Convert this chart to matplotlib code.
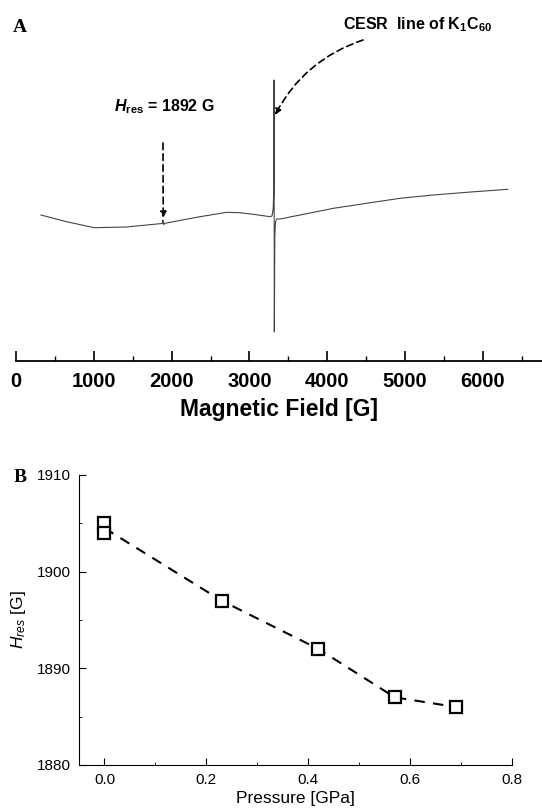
import numpy as np
import matplotlib.pyplot as plt
from matplotlib.ticker import MultipleLocator

plt.rcParams['font.family'] = ['Liberation Sans', 'DejaVu Sans']
plt.rcParams['mathtext.fontset'] = 'custom'
plt.rcParams['mathtext.rm'] = 'Liberation Sans'
plt.rcParams['mathtext.it'] = 'Liberation Sans:italic'
plt.rcParams['mathtext.bf'] = 'Liberation Sans:bold'
plt.rcParams['mathtext.bfit'] = 'Liberation Sans:bold:italic'

# Panel A: ESR spectrum (field in G, intensity in arbitrary units)
field = [320, 650, 1005, 1420, 1810, 1880, 1888, 1893, 1898, 1905, 2020, 2365,
         2710, 2880, 3050, 3265, 3290, 3305, 3312, 3316, 3320, 3326, 3335, 3350,
         3395, 3650, 4080, 4505, 4935, 5360, 5795, 6320]
signal = [2, -4.7, -10.7, -10, -7, -6.5, -3, -5, -7.5, -6.5, -4.7, 0.3,
          4.7, 4.3, 2.7, 0.3, 1, 8, 25, 137, -115, -20, -5, -2,
          -2, 2, 8.7, 13.7, 18.7, 22, 24.7, 27.7]

# Panel B: resonance field vs pressure
pressure = [0.0, 0.0, 0.23, 0.42, 0.57, 0.69]
h_res = [1905, 1904, 1897, 1892, 1887, 1886]
line_p = [0.0, 0.23, 0.42, 0.57, 0.69]
line_h = [1904.5, 1897, 1892, 1887, 1886]

W, H = 542, 810
fig = plt.figure(figsize=(W / 100, H / 100), dpi=100)


def box(l, t, r, b):
    return [l / W, 1 - b / H, (r - l) / W, (b - t) / H]


def fx(px):
    return px / W


def fy(py):
    return 1 - py / H


# ---- panel A ----
axA = fig.add_axes(box(16, 60, 542, 361))
axA.plot(field, signal, color='#444444', lw=0.8)
axA.set_xlim(0, 6760)
axA.set_ylim(-144, 157)
for s in ['left', 'right', 'top']:
    axA.spines[s].set_visible(False)
axA.spines['bottom'].set_linewidth(1.3)
axA.set_yticks([])
axA.xaxis.set_major_locator(MultipleLocator(1000))
axA.xaxis.set_minor_locator(MultipleLocator(500))
axA.tick_params(axis='x', which='major', direction='in', length=7, width=1.2,
                labelsize=14.5, pad=8)
axA.tick_params(axis='x', which='minor', direction='in', length=3.5, width=1.0)
for lab in axA.get_xticklabels():
    lab.set_fontweight('bold')
axA.set_xlabel('Magnetic Field [G]', fontsize=16.5, fontweight='bold', labelpad=5)
axA.patch.set_alpha(0)

fig.text(fx(164), fy(107), r'$\mathbfit{H}_{\mathbf{res}}$ = 1892 G', fontsize=11.5,
         fontweight='bold', ha='center', va='center')
fig.text(fx(418), fy(25), r'CESR  line of K$_{\mathbf{1}}$C$_{\mathbf{60}}$', fontsize=11.5,
         fontweight='bold', ha='center', va='center')
fig.text(fx(20), fy(27), 'A', fontsize=14, fontweight='bold',
         family='Liberation Serif', ha='center', va='center')
fig.text(fx(20), fy(477), 'B', fontsize=14, fontweight='bold',
         family='Liberation Serif', ha='center', va='center')

axA.annotate('', xy=(1892, -1), xycoords='data',
             xytext=(fx(163), fy(143)), textcoords='figure fraction',
             arrowprops=dict(arrowstyle='-|>', linestyle=(0, (4, 2.5)), color='black',
                             lw=1.2, mutation_scale=9, shrinkA=0, shrinkB=0))
axA.annotate('', xy=(fx(275), fy(115)), xycoords='figure fraction',
             xytext=(fx(363), fy(40)), textcoords='figure fraction',
             arrowprops=dict(arrowstyle='-|>', linestyle=(0, (4, 2.5)), color='black',
                             lw=1.2, mutation_scale=9, shrinkA=0, shrinkB=0,
                             connectionstyle='arc3,rad=0.2'))

# ---- panel B ----
axB = fig.add_axes(box(79, 475, 512, 765))
axB.plot(line_p, line_h, color='black', lw=1.5, ls=(0, (5, 4)))
axB.plot(pressure, h_res, ls='none', marker='s', ms=8.5, mfc='white', mec='black', mew=1.6)
axB.set_xlim(-0.05, 0.8)
axB.set_ylim(1880, 1910)
axB.spines['right'].set_visible(False)
axB.spines['top'].set_visible(False)
axB.set_xticks([0.0, 0.2, 0.4, 0.6, 0.8])
axB.set_xticklabels(['0.0', '0.2', '0.4', '0.6', '0.8'])
axB.set_yticks([1880, 1890, 1900, 1910])
axB.xaxis.set_minor_locator(MultipleLocator(0.1))
axB.yaxis.set_minor_locator(MultipleLocator(5))
axB.tick_params(which='major', direction='in', length=5, labelsize=11, pad=6)
axB.tick_params(which='minor', direction='in', length=2.5)
axB.set_xlabel('Pressure [GPa]', fontsize=12.5, labelpad=3)
axB.set_ylabel(r'$H_{res}$ [G]', fontsize=12.5, labelpad=6)

fig.savefig('out.png', dpi=100)
